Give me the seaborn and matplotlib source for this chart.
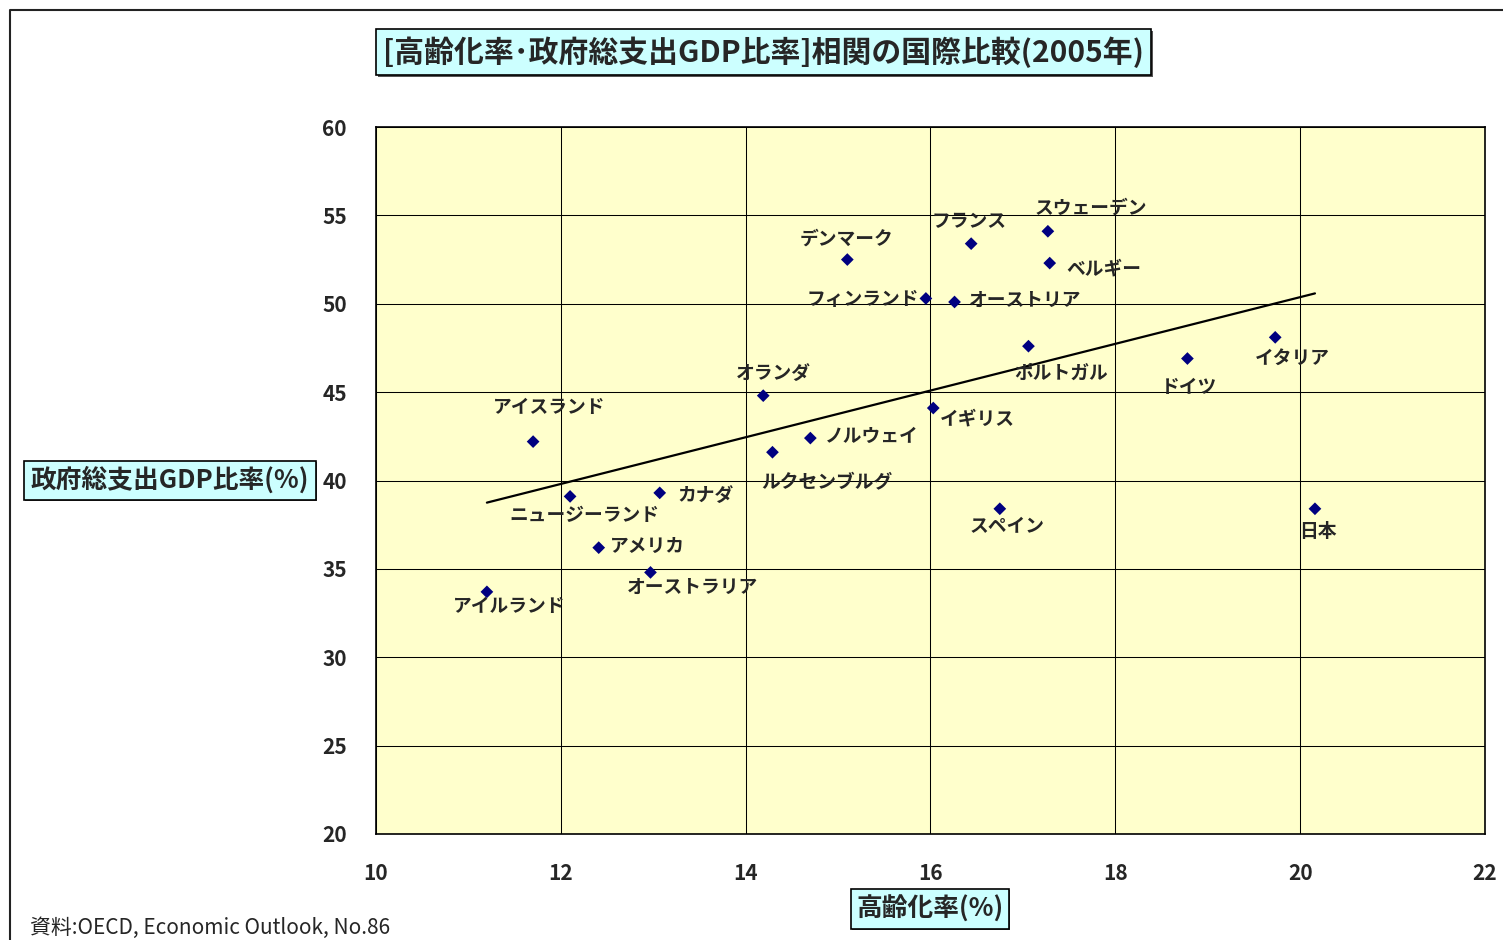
import numpy as np
import pandas as pd
import matplotlib
matplotlib.use("Agg")
import matplotlib.pyplot as plt
from matplotlib.patches import Rectangle
from matplotlib.lines import Line2D
import seaborn as sns

# 2005: share of population aged 65+ (%) vs. general government total outlays (% of GDP)
countries = ["アイルランド", "アイスランド", "ニュージーランド", "アメリカ", "オーストラリア",
             "カナダ", "オランダ", "ルクセンブルグ", "ノルウェイ", "デンマーク",
             "フィンランド", "イギリス", "オーストリア", "フランス", "スペイン",
             "ポルトガル", "スウェーデン", "ベルギー", "ドイツ", "イタリア", "日本"]
aging_rate = [11.20, 11.70, 12.10, 12.41, 12.97,
              13.07, 14.19, 14.29, 14.70, 15.10,
              15.95, 16.03, 16.26, 16.44, 16.75,
              17.06, 17.27, 17.29, 18.78, 19.73, 20.16]
gov_outlays = [33.7, 42.2, 39.1, 36.2, 34.8,
               39.3, 44.8, 41.6, 42.4, 52.5,
               50.3, 44.1, 50.1, 53.4, 38.4,
               47.6, 54.1, 52.3, 46.9, 48.1, 38.4]

x_ticks = [10, 12, 14, 16, 18, 20, 22]
y_ticks = [20, 25, 30, 35, 40, 45, 50, 55, 60]

title_text = "[高齢化率･政府総支出GDP比率]相関の国際比較(2005年)"
x_label = "高齢化率(%)"
y_label = "政府総支出GDP比率(%)"
source_text = "資料:OECD, Economic Outlook, No.86"

# label placement: (dx, dy) in pixels from the marker (dy downwards), alignment
label_pos = {
    "アイルランド": (22, 15, "center"), "アイスランド": (16, -34, "center"),
    "ニュージーランド": (14, 19, "center"), "アメリカ": (11, -1, "left"),
    "オーストラリア": (42, 15, "center"), "カナダ": (18, 3, "left"),
    "オランダ": (10, -22, "center"), "ルクセンブルグ": (54, 31, "center"),
    "ノルウェイ": (15, -2, "left"), "デンマーク": (-1, -20, "center"),
    "フィンランド": (-7, 1, "right"), "イギリス": (7, 11, "left"),
    "オーストリア": (14, -2, "left"), "フランス": (-2, -22, "center"),
    "スペイン": (7, 18, "center"), "ポルトガル": (33, 27, "center"),
    "スウェーデン": (43, -23, "center"), "ベルギー": (17, 6, "left"),
    "ドイツ": (2, 29, "center"), "イタリア": (17, 21, "center"),
    "日本": (3, 23, "center"),
}

df = pd.DataFrame({"country": countries, "aging": aging_rate, "outlays": gov_outlays})

sns.set_style("white")
plt.rcParams["font.family"] = ["Noto Sans CJK JP", "DejaVu Sans"]

W, H = 1503, 940
fig = plt.figure(figsize=(W / 100, H / 100), dpi=100)
fig.patch.set_facecolor("white")


def fx(px):
    return px / W


def fy(py):
    return 1 - py / H


ax = fig.add_axes([fx(376), fy(834), (1485 - 376) / W, (834 - 127) / H])
ax.set_facecolor("#FFFFCC")

sns.regplot(data=df, x="aging", y="outlays", ax=ax, scatter=False, ci=None,
            truncate=True, line_kws=dict(color="black", lw=1.6, zorder=3))
sns.scatterplot(data=df, x="aging", y="outlays", ax=ax, marker="D", s=42,
                color="#000080", edgecolor="none", zorder=4)

ax.set_xlim(10, 22)
ax.set_ylim(20, 60)
ax.set_xticks(x_ticks)
ax.set_yticks(y_ticks)
ax.set_xticklabels([str(v) for v in x_ticks], fontsize=15, fontweight="bold")
ax.set_yticklabels([str(v) for v in y_ticks], fontsize=15, fontweight="bold")
ax.tick_params(axis="both", length=0)
ax.tick_params(axis="y", pad=21)
ax.tick_params(axis="x", pad=21)
ax.grid(True, color="black", lw=0.75)
ax.set_axisbelow(True)
ax.set_xlabel("")
ax.set_ylabel("")
for sp in ax.spines.values():
    sp.set_visible(True)
    sp.set_color("black")
    sp.set_linewidth(1.2)

for name, xv, yv in zip(countries, aging_rate, gov_outlays):
    dx, dy, ha = label_pos[name]
    ax.annotate(name, (xv, yv), xytext=(dx, -dy), textcoords="offset pixels",
                ha=ha, va="center", fontsize=13.5, fontweight="bold", zorder=5)


def boxed_text(x0, y0, x1, y1, text, size, shadow=2):
    sh = Rectangle((fx(x0) + shadow / W, fy(y1) - shadow / H), (x1 - x0) / W, (y1 - y0) / H,
                   transform=fig.transFigure, facecolor="#555555", edgecolor="none", zorder=1)
    box = Rectangle((fx(x0), fy(y1)), (x1 - x0) / W, (y1 - y0) / H,
                    transform=fig.transFigure, facecolor="#CCFFFF", edgecolor="black",
                    lw=1.2, zorder=2)
    fig.add_artist(sh)
    fig.add_artist(box)
    fig.text(fx((x0 + x1) / 2), fy((y0 + y1) / 2), text, ha="center", va="center",
             fontsize=size, fontweight="bold", zorder=3)


boxed_text(376, 29, 1151, 75, title_text, 21.5)
boxed_text(24, 461, 316, 500, y_label, 18.5, shadow=1)
boxed_text(851, 889, 1009, 929, x_label, 18.5, shadow=1)

fig.text(fx(30), fy(928), source_text, ha="left", va="center", fontsize=15)

# outer chart frame
fig.add_artist(Line2D([fx(10), fx(10), fx(W + 5)], [fy(H + 5), fy(10), fy(10)],
                      transform=fig.transFigure, color="#222222", lw=1.5))

fig.savefig("out.png", dpi=100)
